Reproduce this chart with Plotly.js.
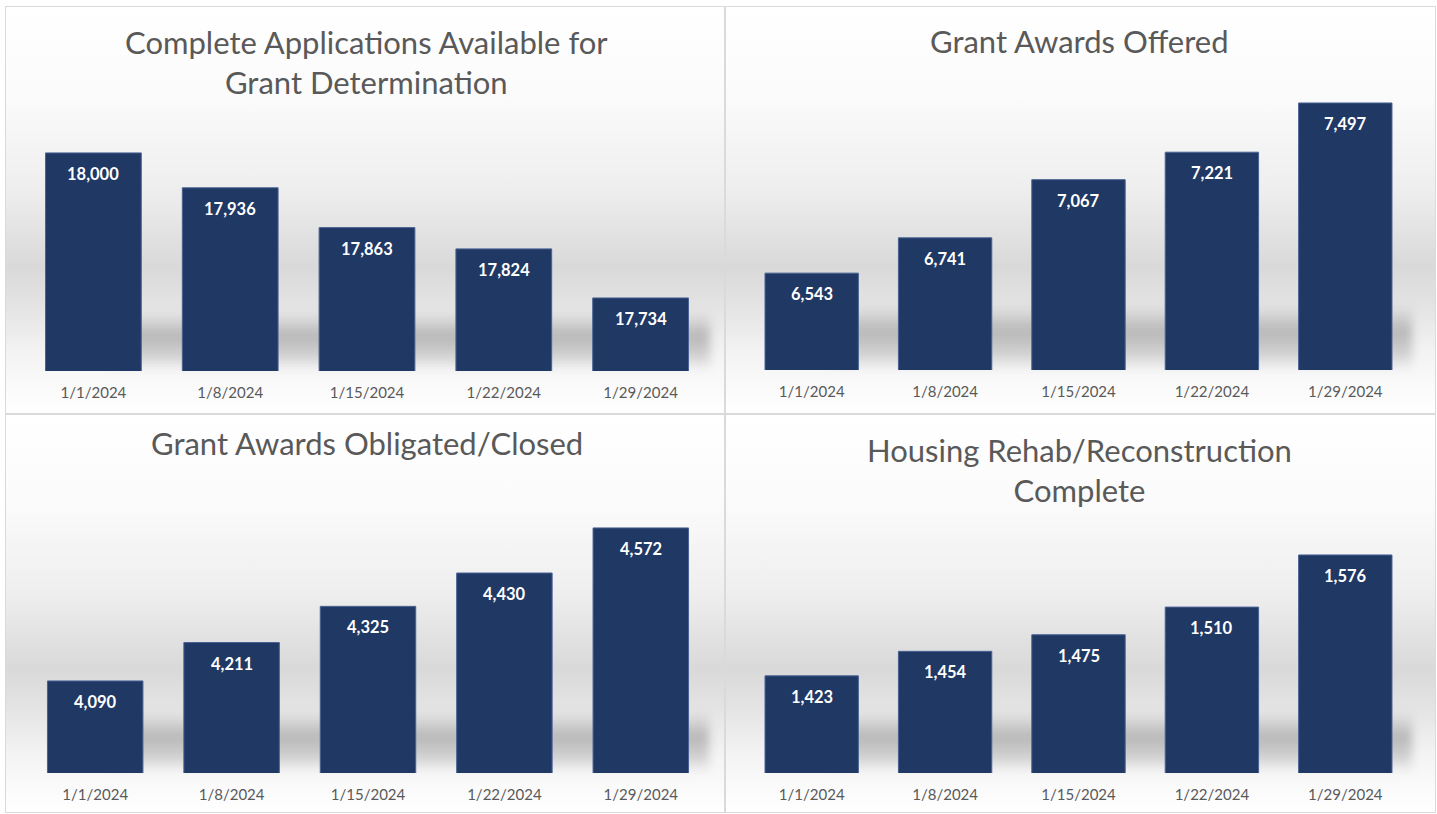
<!DOCTYPE html>
<html>
<head>
<meta charset="utf-8">
<script src="https://cdn.plot.ly/plotly-3.0.1.min.js"></script>
<style>
  html, body { margin: 0; padding: 0; background: #ffffff; }
  #wrap { position: relative; width: 1437px; height: 814px; overflow: hidden; }
  .panel { position: absolute; box-sizing: border-box; border: 1px solid #dadada;
    background: linear-gradient(to bottom, #ffffff 0%, #fbfbfb 22%, #eeeeee 45%, #d9d9d9 64%, #e4e4e4 74%, #f4f4f4 86%, #ffffff 100%); }
  .shadow { position: absolute; filter: blur(5px);
    background: linear-gradient(to bottom, rgba(185,185,185,0) 0%, rgba(170,170,170,0.8) 40%, rgba(190,190,190,0.65) 75%, rgba(240,240,240,0) 100%); }
  #chart { position: absolute; left: 0; top: 0; width: 1437px; height: 814px; }
</style>
</head>
<body>
<div id="wrap">
  <div class="panel" style="left:5px;top:6px;width:720px;height:408px;"></div>
  <div class="panel" style="left:725px;top:6px;width:711px;height:408px;"></div>
  <div class="panel" style="left:5px;top:414px;width:720px;height:399px;"></div>
  <div class="panel" style="left:725px;top:414px;width:711px;height:399px;"></div>
  <div class="shadow" style="left:110px;top:312px;width:600px;height:58px;"></div>
  <div class="shadow" style="left:830px;top:305px;width:582px;height:65px;"></div>
  <div class="shadow" style="left:112px;top:712px;width:597px;height:60px;"></div>
  <div class="shadow" style="left:832px;top:712px;width:580px;height:60px;"></div>
  <div id="chart"></div>
</div>
<script>
// ---- data ----
const dates = ["1/1/2024", "1/8/2024", "1/15/2024", "1/22/2024", "1/29/2024"];
const completeApplications = [18000, 17936, 17863, 17824, 17734];
const awardsOffered = [6543, 6741, 7067, 7221, 7497];
const awardsObligated = [4090, 4211, 4325, 4430, 4572];
const housingComplete = [1423, 1454, 1475, 1510, 1576];
const titles = [
  "Complete Applications Available for<br>Grant Determination",
  "Grant Awards Offered",
  "Grant Awards Obligated/Closed",
  "Housing Rehab/Reconstruction<br>Complete"
];

// ---- layout helpers (pixel geometry) ----
const W = 1437, H = 814;
const px = v => v / W;
const py = v => 1 - v / H;

const panels = [
  {vals: completeApplications, x0: 25, x1: 709, yTop: 98.4, yBot: 371, range: [17600, 18100], titleX: 367, titleY: 62},
  {vals: awardsOffered, x0: 745, x1: 1412, yTop: 84.6, yBot: 370, range: [6000, 7600], titleX: 1079, titleY: 41},
  {vals: awardsObligated, x0: 27, x1: 709, yTop: 487.3, yBot: 773, range: [3800, 4700], titleX: 367, titleY: 443},
  {vals: housingComplete, x0: 745, x1: 1412, yTop: 520.2, yBot: 773, range: [1300, 1620], titleX: 1079, titleY: 470}
];

const fontFam = "Lato, 'Open Sans', sans-serif";
const data = [];
const layout = {
  width: W, height: H,
  margin: {l: 0, r: 0, t: 0, b: 0},
  paper_bgcolor: "rgba(0,0,0,0)",
  plot_bgcolor: "rgba(0,0,0,0)",
  showlegend: false,
  bargap: 0.3,
  annotations: [],
  font: {family: fontFam, color: "#595959"}
};

panels.forEach((p, i) => {
  const n = i + 1;
  const xa = n === 1 ? "x" : "x" + n;
  const ya = n === 1 ? "y" : "y" + n;
  data.push({
    type: "bar",
    x: dates,
    y: p.vals,
    xaxis: xa, yaxis: ya,
    marker: {color: "#203864", line: {color: "#4a6294", width: 1}},
    hoverinfo: "x+y"
  });
  layout["xaxis" + (n === 1 ? "" : n)] = {
    domain: [px(p.x0), px(p.x1)],
    anchor: ya,
    type: "category",
    showgrid: false, zeroline: false, showline: false,
    ticks: "",
    ticklabelstandoff: 11,
    tickfont: {family: fontFam, size: 15, color: "#595959"},
    fixedrange: true
  };
  layout["yaxis" + (n === 1 ? "" : n)] = {
    domain: [py(p.yBot), py(p.yTop)],
    anchor: xa,
    range: p.range,
    showgrid: false, zeroline: false, showline: false,
    showticklabels: false, ticks: "",
    fixedrange: true
  };
  // panel title
  layout.annotations.push({
    xref: "paper", yref: "paper",
    x: px(p.titleX), y: py(p.titleY),
    xanchor: "center", yanchor: "middle",
    text: titles[i], showarrow: false,
    font: {family: fontFam, size: 31, color: "#595959"},
    align: "center"
  });
  // value labels inside the bar tops
  p.vals.forEach((v, k) => {
    layout.annotations.push({
      xref: xa, yref: ya,
      x: dates[k], y: v,
      yanchor: "middle", xanchor: "center",
      yshift: -21,
      text: v.toLocaleString("en-US"),
      showarrow: false,
      font: {family: fontFam, size: 16.5, color: "#ffffff", weight: "bold"}
    });
  });
});

Plotly.newPlot("chart", data, layout, {displayModeBar: false, staticPlot: true});
</script>
</body>
</html>
